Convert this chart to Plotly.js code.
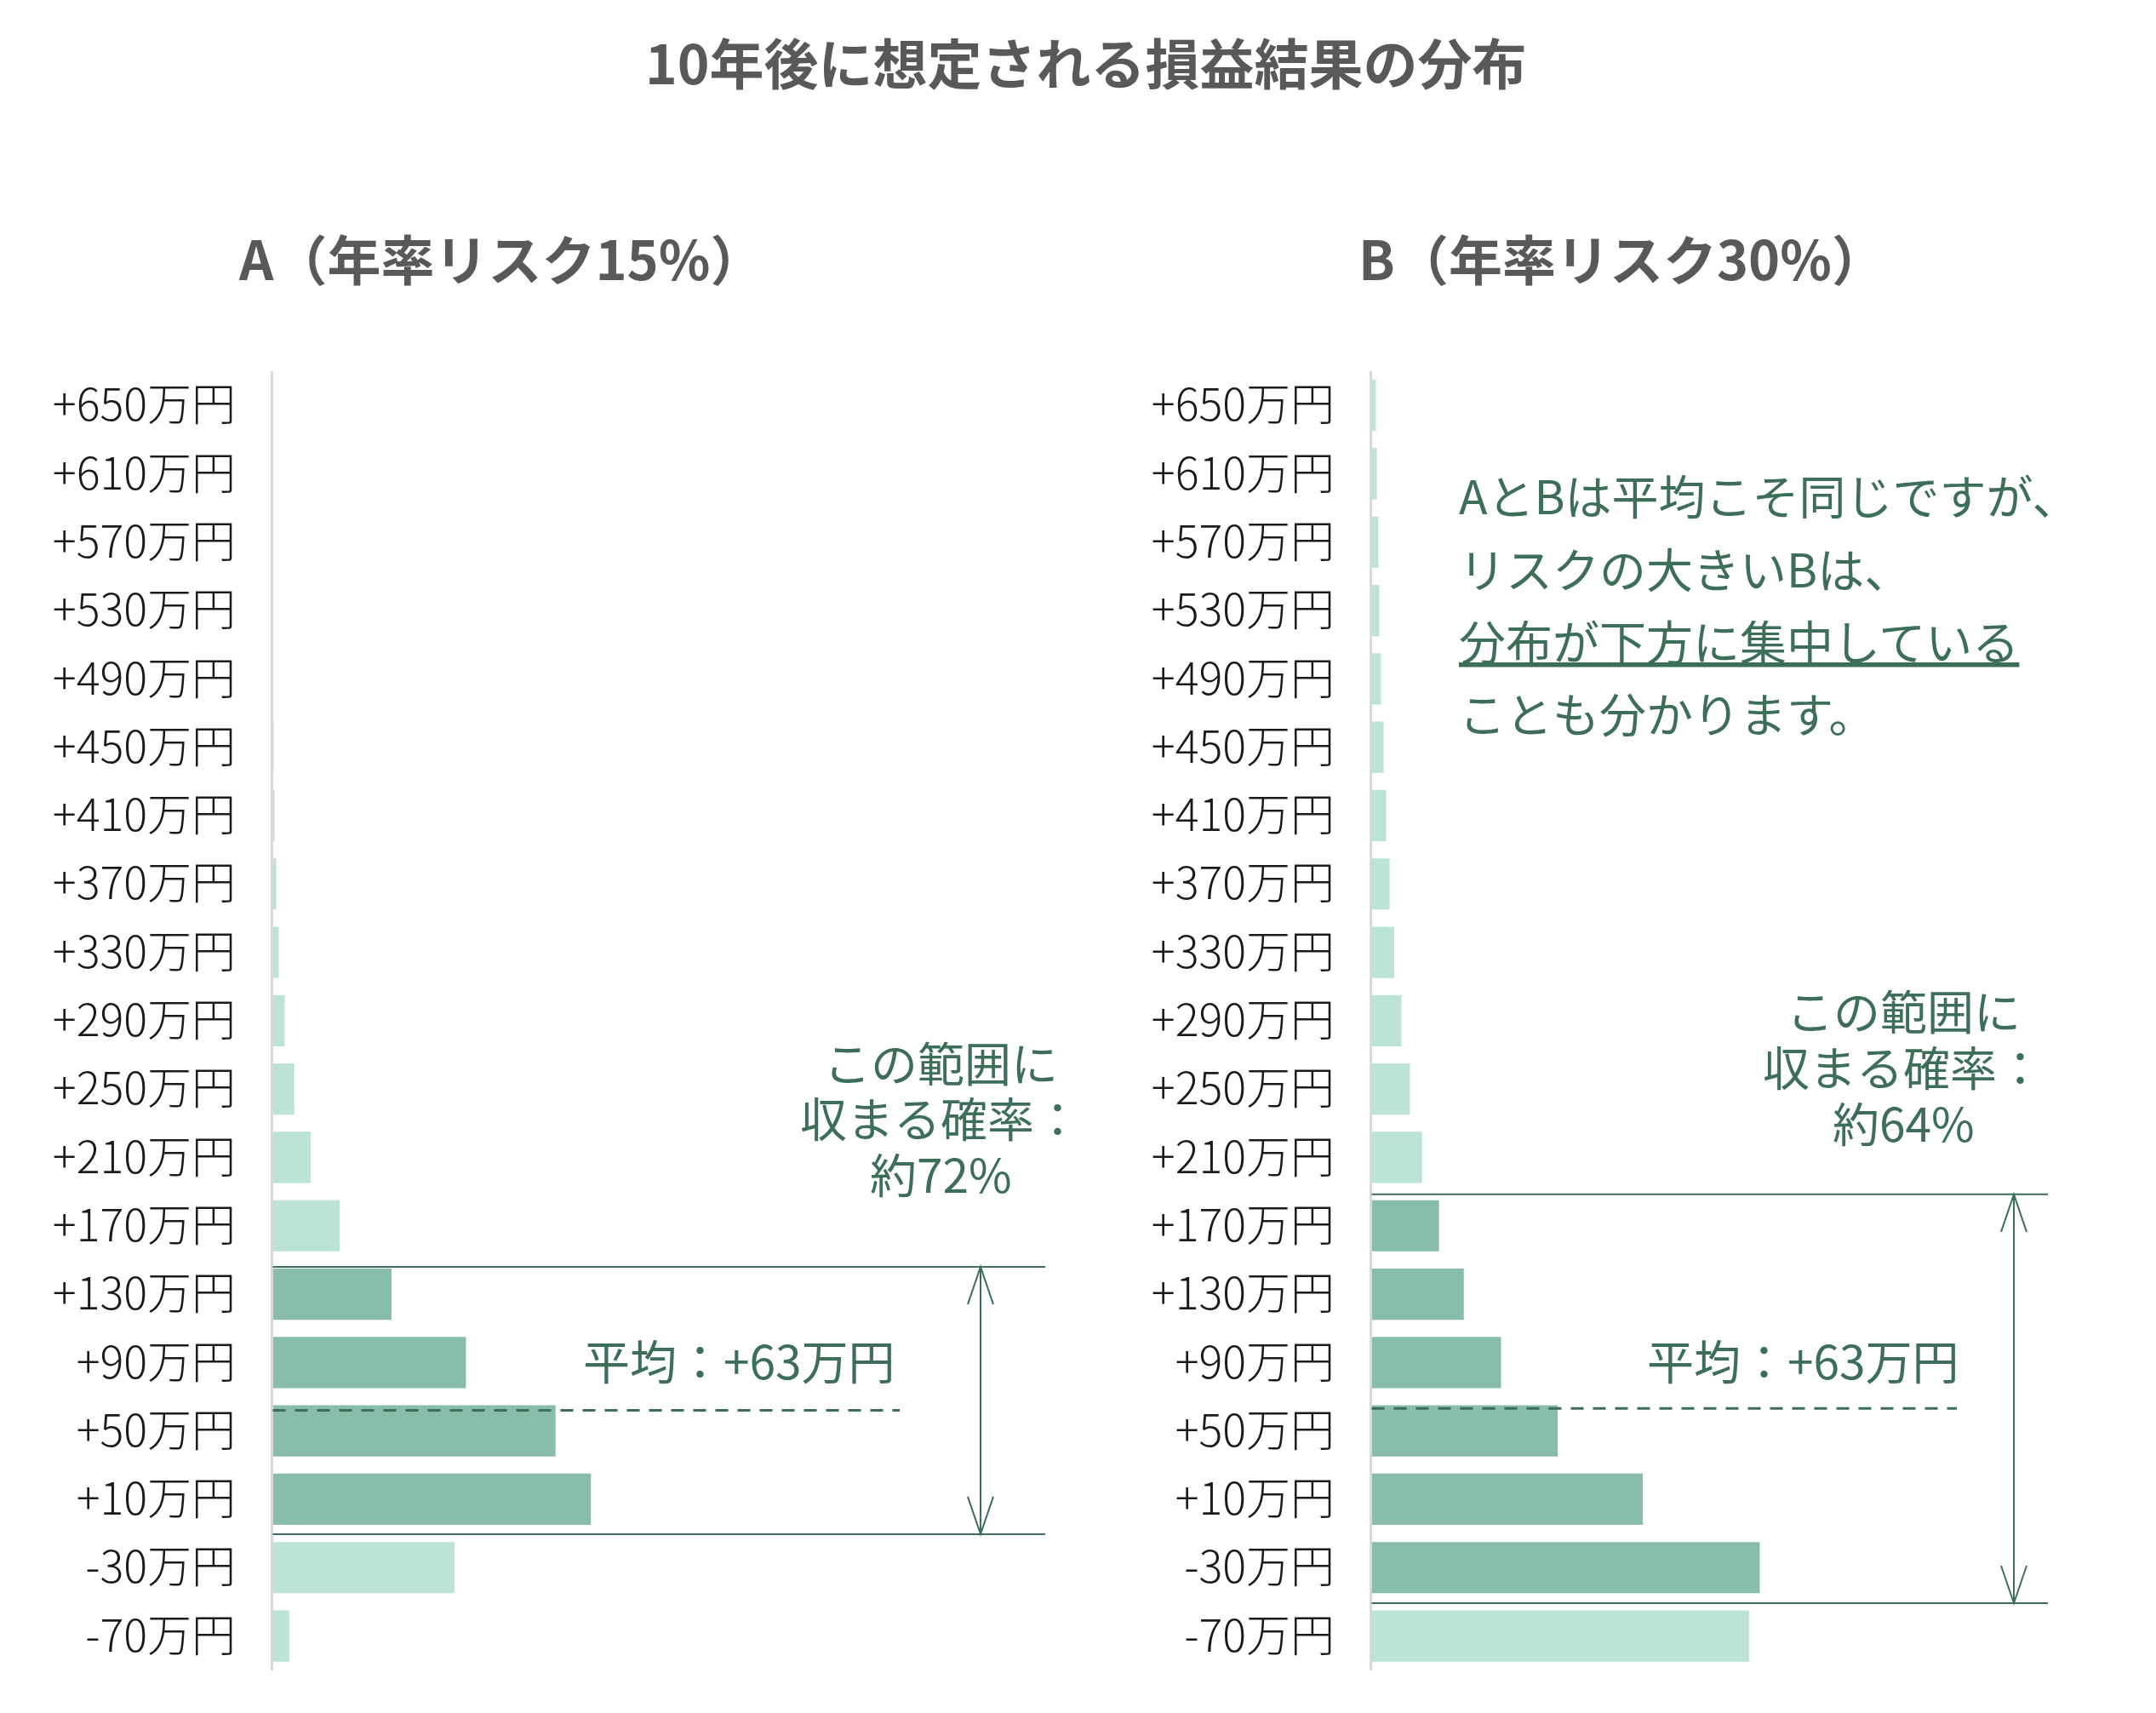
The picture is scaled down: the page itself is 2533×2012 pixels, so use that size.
<!DOCTYPE html>
<html>
<head>
<meta charset="utf-8">
<script src="https://cdn.plot.ly/plotly-3.0.1.min.js"></script>
<style>
  html, body { margin: 0; padding: 0; background: #ffffff; }
  #chart { width: 2533px; height: 2012px; }
</style>
</head>
<body>
<div id="chart"></div>
<script>
// 損益の階級（下から上へ）
var categories = ['-70万円', '-30万円', '+10万円', '+50万円', '+90万円', '+130万円', '+170万円',
    '+210万円', '+250万円', '+290万円', '+330万円', '+370万円', '+410万円', '+450万円',
    '+490万円', '+530万円', '+570万円', '+610万円', '+650万円'];

// A（年率リスク15%）の確率（%）
var probA = [1.3, 14.4, 25.2, 22.4, 15.3, 9.4, 5.3, 3.0, 1.7, 0.94, 0.47, 0.27, 0.13, 0.07,
    0.03, 0.015, 0.008, 0.004, 0.002];
// B（年率リスク30%）の確率（%）
var probB = [21.3, 21.9, 15.3, 10.5, 7.3, 5.2, 3.8, 2.84, 2.16, 1.68, 1.27, 1.01, 0.82, 0.67,
    0.53, 0.43, 0.38, 0.29, 0.24];

// 「この範囲に収まる」階級
var rangeA = ['+10万円', '+50万円', '+90万円', '+130万円'];
var rangeB = ['-30万円', '+10万円', '+50万円', '+90万円', '+130万円', '+170万円'];

var W = 2533, H = 2012;
var FONT = '"Noto Sans CJK JP", "Noto Sans", sans-serif';
var DARK = '#88bdaa', LIGHT = '#bce3d7', GREEN = '#3d6e59', GRAY = '#595959';

function px(x) { return x / W; }       // ピクセル -> paper
function py(y) { return 1 - y / H; }

function colorsFor(range) {
    return categories.map(function(c) { return range.indexOf(c) >= 0 ? DARK : LIGHT; });
}

var data = [
    { type: 'bar', orientation: 'h', y: categories, x: probA, xaxis: 'x', yaxis: 'y',
      marker: { color: colorsFor(rangeA), line: { width: 0 } }, hoverinfo: 'skip' },
    { type: 'bar', orientation: 'h', y: categories, x: probB, xaxis: 'x2', yaxis: 'y2',
      marker: { color: colorsFor(rangeB), line: { width: 0 } }, hoverinfo: 'skip' }
];

var yaxisBase = {
    type: 'category', categoryorder: 'array', categoryarray: categories,
    range: [-0.5, 18.5], domain: [py(1961.7), py(436)],
    showline: true, linecolor: '#d9d9d9', linewidth: 3,
    ticks: '', showgrid: false, zeroline: false,
    tickfont: { family: FONT, size: 52, color: '#1a1a1a', weight: 300 },
    ticklabelstandoff: 30
};

var layout = {
    width: W, height: H,
    margin: { l: 0, r: 0, t: 0, b: 0 },
    paper_bgcolor: '#ffffff', plot_bgcolor: 'rgba(0,0,0,0)',
    showlegend: false, bargap: 0.25, hovermode: false,
    font: { family: FONT, color: '#1a1a1a' },
    xaxis: { domain: [px(320.5), px(1250)], range: [0, 929.5 / 14.83], visible: false, anchor: 'y' },
    yaxis: Object.assign({ anchor: 'x' }, yaxisBase),
    xaxis2: { domain: [px(1611.5), px(2450)], range: [0, 838.5 / 20.82], visible: false, anchor: 'y2' },
    yaxis2: Object.assign({ anchor: 'x2' }, yaxisBase),
    shapes: [],
    annotations: []
};

function txt(text, x, y, opts) {
    var a = { text: text, x: x, y: y, xref: 'paper', yref: 'paper', showarrow: false,
              xanchor: 'center', yanchor: 'middle', align: 'center',
              font: { family: FONT, size: 55, color: GREEN } };
    return Object.assign(a, opts || {});
}

// タイトル
layout.annotations.push(txt('<b>10年後に想定される損益結果の分布</b>', px(1276), py(71),
    { font: { family: FONT, size: 64, color: GRAY } }));
layout.annotations.push(txt('<b>A（年率リスク15%）</b>', px(278), py(301),
    { xanchor: 'left', font: { family: FONT, size: 63, color: GRAY } }));
layout.annotations.push(txt('<b>B（年率リスク30%）</b>', px(1594), py(301),
    { xanchor: 'left', font: { family: FONT, size: 63, color: GRAY } }));

// A側の注記
layout.annotations.push(txt('この範囲に', px(1105), py(1246)));
layout.annotations.push(txt('収まる確率：', px(1105), py(1311)));
layout.annotations.push(txt('約72%', px(1105), py(1377)));
layout.annotations.push(txt('平均：+63万円', px(868), 4.06, { yref: 'y' }));

// B側の注記
layout.annotations.push(txt('この範囲に', px(2236), py(1185)));
layout.annotations.push(txt('収まる確率：', px(2236), py(1251)));
layout.annotations.push(txt('約64%', px(2236), py(1317)));
layout.annotations.push(txt('平均：+63万円', px(2118), 4.06, { yref: 'y2' }));

// 説明文
layout.annotations.push(txt('AとBは平均こそ同じですが、', px(1712), py(580), { xanchor: 'left' }));
layout.annotations.push(txt('リスクの大きいBは、', px(1712), py(666), { xanchor: 'left' }));
layout.annotations.push(txt('<span style="text-decoration:underline">分布が下方に集中している</span>',
    px(1712), py(751), { xanchor: 'left' }));
layout.annotations.push(txt('ことも分かります。', px(1712), py(836), { xanchor: 'left' }));

// 範囲の線・矢印・平均の破線
function rangeMarks(yref, x0, x1, xArrow, xDash, yTop, yBottom, yMean) {
    var ln = { color: GREEN, width: 2 };
    layout.shapes.push({ type: 'line', xref: 'paper', yref: yref, x0: px(x0), x1: px(x1), y0: yTop, y1: yTop, line: ln });
    layout.shapes.push({ type: 'line', xref: 'paper', yref: yref, x0: px(x0), x1: px(x1), y0: yBottom, y1: yBottom, line: ln });
    layout.shapes.push({ type: 'line', xref: 'paper', yref: yref, x0: px(xArrow), x1: px(xArrow), y0: yBottom, y1: yTop, line: ln });
    layout.shapes.push({ type: 'path', xref: 'paper', yref: yref, xsizemode: 'pixel', ysizemode: 'pixel',
        xanchor: px(xArrow), yanchor: yTop, path: 'M-15,-44 L0,0 L15,-44', line: ln });
    layout.shapes.push({ type: 'path', xref: 'paper', yref: yref, xsizemode: 'pixel', ysizemode: 'pixel',
        xanchor: px(xArrow), yanchor: yBottom, path: 'M-15,44 L0,0 L15,44', line: ln });
    layout.shapes.push({ type: 'line', xref: 'paper', yref: yref, x0: px(x0), x1: px(xDash), y0: yMean, y1: yMean,
        line: { color: GREEN, width: 3, dash: '15px,11px' } });
}
rangeMarks('y', 320.5, 1228, 1152, 1057, 5.40, 1.49, 3.30);
rangeMarks('y2', 1611.5, 2406, 2366, 2299, 6.46, 0.48, 3.33);

Plotly.newPlot('chart', data, layout, { displayModeBar: false, staticPlot: true });
</script>
</body>
</html>
